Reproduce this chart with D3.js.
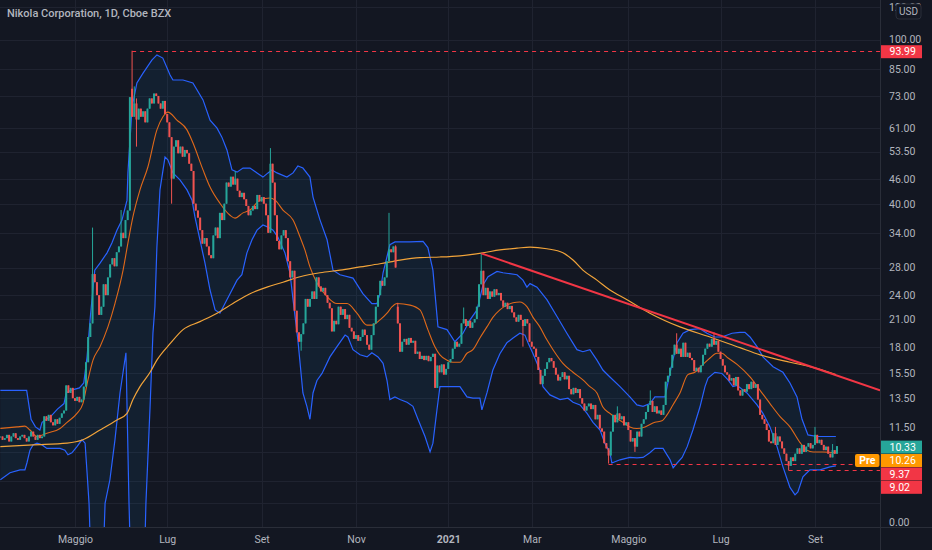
<!DOCTYPE html>
<html>
<head>
<meta charset="utf-8">
<script src="https://cdnjs.cloudflare.com/ajax/libs/d3/7.8.5/d3.min.js"></script>
<style>
  html, body { margin: 0; padding: 0; background: #131722; }
  svg { display: block; }
</style>
</head>
<body>
<div id="chart"></div>
<script>
// --- DATA ---
// bar index 0 = first session of May 2020; daily closes
const firstBar = -34;
const closes = [
    10.9, 10.7, 10.8, 11.0, 10.6, 10.9, 11.1, 10.8, 10.7, 10.9,
    11.0, 10.8, 10.6, 10.9, 11.2, 10.9, 10.7, 11.0, 10.8, 10.9,
    12.2, 11.9, 12.3, 11.8, 11.6, 12.0, 11.7, 12.1, 12.4, 12.6,
    14.5, 13.9, 14.3, 13.5, 13.3, 13.6, 13.2, 13.4, 14.4, 16.5,
    19.0, 20.5, 27.0, 25.8, 24.0, 21.5, 22.5, 25.5, 24.0, 26.5,
    28.5, 29.5, 28.2, 30.5, 31.5, 34.0, 33.0, 36.5, 38.5, 72.5,
    65.0, 70.0, 64.0, 68.0, 65.0, 67.0, 63.0, 68.0, 72.0, 70.0,
    74.0, 73.0, 70.0, 68.0, 71.0, 66.0, 63.0, 58.0, 46.0, 55.0,
    57.0, 53.0, 55.0, 52.0, 54.0, 53.0, 50.0, 48.0, 40.0, 38.5,
    37.0, 34.5, 32.0, 33.0, 31.5, 30.0, 29.5, 33.5, 35.0, 33.0,
    38.0, 36.5, 40.0, 45.0, 44.0, 46.5, 44.5, 46.0, 43.0, 41.5,
    42.5, 41.0, 39.5, 37.5, 38.5, 39.5, 38.8, 42.0, 40.5, 41.5,
    40.0, 37.5, 34.0, 50.0, 45.0, 37.5, 32.5, 31.0, 33.5, 34.5,
    33.0, 29.0, 26.5, 27.5, 22.0, 19.5, 18.5, 19.3, 20.5, 23.5,
    22.5, 23.5, 24.5, 23.5, 26.5, 25.2, 24.5, 25.0, 24.0, 23.0,
    22.3, 19.6, 20.8, 20.4, 22.5, 21.5, 22.2, 21.0, 21.5, 20.0,
    19.6, 18.8, 19.2, 18.6, 19.0, 19.8, 19.2, 18.2, 17.7, 19.2,
    20.5, 22.5, 24.0, 26.0, 25.3, 26.5, 29.0, 31.0, 30.5, 31.5,
    28.0, 20.5, 17.5, 18.5, 18.8, 18.2, 18.9, 18.4, 18.6, 17.3,
    17.5, 16.8, 17.1, 16.7, 17.1, 16.6, 17.0, 17.3, 14.3, 16.2,
    15.6, 16.3, 15.4, 15.9, 16.5, 16.8, 17.8, 18.5, 18.0, 18.3,
    20.5, 21.0, 20.2, 20.8, 20.0, 20.6, 21.0, 22.5, 25.5, 27.5,
    24.0, 25.0, 23.5, 24.5, 23.8, 24.8, 24.0, 24.3, 23.3, 22.5,
    23.0, 22.2, 22.6, 21.8, 21.2, 20.7, 21.5, 20.9, 20.2, 21.0,
    20.5, 18.5, 18.0, 17.8, 17.0, 15.8, 14.6, 15.3, 15.9, 16.5,
    16.9, 16.6, 16.0, 15.4, 14.9, 15.2, 15.6, 15.0, 15.3, 14.2,
    13.8, 14.3, 13.9, 14.2, 13.5, 13.1, 12.6, 12.9, 13.1, 12.7,
    13.0, 12.0, 12.3, 11.4, 11.2, 10.5, 10.2, 9.8, 11.2, 12.3,
    11.8, 12.4, 12.0, 12.2, 11.6, 11.8, 11.3, 10.6, 10.8, 10.3,
    11.2, 10.9, 11.7, 12.0, 12.5, 13.0, 13.3, 12.5, 12.9, 12.4,
    12.6, 12.3, 13.0, 14.8, 15.3, 16.0, 17.2, 18.2, 17.3, 17.8,
    17.0, 18.4, 17.0, 17.4, 16.9, 16.7, 15.7, 16.0, 15.6, 16.2,
    17.2, 17.8, 18.3, 18.0, 18.8, 18.2, 18.6, 17.5, 16.8, 16.2,
    15.6, 15.4, 14.9, 15.1, 14.5, 15.2, 14.1, 13.7, 14.2, 14.0,
    14.6, 14.2, 14.8, 14.3, 14.6, 13.4, 12.3, 12.0, 11.7, 11.3,
    10.6, 10.5, 11.1, 10.4, 10.9, 10.6, 10.2, 9.9, 9.5, 9.25,
    9.7, 9.5, 9.9, 10.2, 9.9, 10.4, 10.0, 10.3, 10.5, 10.2,
    10.4, 11.0, 10.5, 10.7, 10.4, 10.1, 10.3, 9.9, 9.7, 10.1,
    9.9, 10.33
];
// [bar, price] overrides where a candle gaps or has a visible wick
const gapOpens = [[26, 76], [147, 22.5]];
const wickHighs = [[8, 35], [21, 38.6], [26, 93.99], [27, 77], [28, 72], [73, 48], [89, 54.56],
    [143, 38], [146, 31.7], [147, 23], [177, 22.4], [185, 30.3], [247, 12.9], [262, 14.1],
    [274, 19.4], [291, 19.5], [319, 11.5], [337, 11.5], [345, 10.45]];
const wickLows = [[28, 55], [44, 40], [103, 17.6], [204, 18], [243, 9.37], [255, 10.0], [325, 9.02]];

// Bollinger Bands (20, 2) and SMA 200, [bar, price]
const bbUpper = [[-34,14.1],[-22,14.1],[-20,12.0],[-18,11.5],[-16,11.3],[-15,11.8],[-11,12.2],[-8,12.7],
    [-5,13.1],[-4,13.9],[-2,14.1],[2,14.3],[4,14.7],[5.5,17.0],[7,21.3],[9,27.6],[11.4,28.7],[14.6,30.4],
    [16.8,32.1],[19.1,34.5],[21.4,36.5],[23.7,40.8],[24.1,47.5],[26,68.6],[28.2,78.5],[31,82.9],[35,89.2],
    [37.3,91.8],[40,90.2],[43.3,82.1],[44.6,79.8],[49.2,79.8],[53.7,78.5],[58.3,71.4],[61.5,63.8],
    [64.7,61.0],[66.9,58.0],[69.2,54.0],[71.5,48.3],[73.8,47.7],[76.5,48.8],[79.7,48.8],[82.9,47.5],
    [85.6,46.4],[87.9,47.5],[89.7,48.3],[92,47.5],[96.5,46.4],[99.3,47.5],[101.5,49.4],[103.8,48.8],
    [107,46.4],[108.4,41.5],[111.6,36.5],[114.8,32.7],[117.5,27.6],[120.7,26.9],[126.6,26.4],
    [131.1,24.2],[135.2,22.9],[137.5,22.9],[138.9,24.2],[140.3,27.2],[143.4,31.8],[145.7,32.3],
    [152.6,32.3],[158.5,32.4],[160.7,31.3],[163,27.6],[165.3,20.1],[169.4,19.8],[173,18.5],
    [176.7,19.4],[179.9,20.9],[183.1,22.1],[185.8,25.4],[188.1,26.6],[192.2,27.4],[194.9,27.2],
    [201.3,26.9],[204,26.1],[205.8,25.1],[207.2,25.6],[210.4,25.1],[214.9,23.4],[219.5,21.3],
    [224,19.4],[228.6,17.7],[231.3,17.5],[234.5,17.7],[237.7,16.7],[240.4,15.8],[243.6,15.2],
    [248.2,14.4],[252.7,13.6],[255.9,13.0],[258.7,12.9],[261.8,13.1],[264.1,13.6],[268.7,13.6],
    [270,14.7],[271.9,16.4],[274.2,18.4],[276.9,19.4],[280.1,19.8],[284.6,19.9],[287.8,19.4],
    [291.4,19.0],[294.6,19.0],[299.2,19.4],[302.8,19.5],[305.1,19.5],[307.4,19.0],[310.6,18.0],
    [313.3,17.0],[317.9,16.1],[322.4,15.6],[325.6,14.7],[328.8,13.6],[331.1,12.0],[333.8,11.0],
    [337.9,10.9],[342.4,10.9],[346.5,10.9]];
const bbLower = [[-34,8.56],[-29.6,8.9],[-25,9.05],[-22.8,9.05],[-21.9,9.4],[-20.5,10.1],[-19.1,10.4],
    [-17.3,10.5],[-15,10.4],[-12.8,10.2],[-6.8,10.2],[-4.6,10.1],[-3.2,9.84],[-1.4,9.95],[0.9,10.3],
    [3.2,10.7],[4.6,10.5],[5.5,8.9],[6.4,7.5],[8,4],[12,4],[13.7,7.5],[15.9,8.56],[18.2,10.7],
    [20.5,13.9],[23.2,17.4],[24.6,7.5],[26,4],[31,4],[32.3,7.5],[34.2,12.9],[35.5,19.4],[36.4,22.5],
    [37.3,31.4],[38.7,43.2],[41,51.9],[42.3,51.1],[44.6,47.5],[47.8,45.7],[51,43.2],[53.3,40.8],
    [54.6,37.2],[56.9,32.7],[59.2,28.7],[61.5,24.7],[63.8,22.1],[66,21.7],[68.3,22.9],[70.6,24.2],
    [73.8,26.1],[76,26.9],[78.3,30.4],[80.6,32.7],[82.9,34.5],[85.6,35.5],[87.9,35.1],[90.2,34.5],
    [92.4,33.2],[95.6,30.4],[97.9,27.2],[99.3,23.4],[101.5,18.7],[103.8,13.9],[105.6,12.9],[107,12.0],
    [108.4,13.9],[110.2,14.9],[112.5,15.5],[116.1,17.0],[119.3,18.0],[123,19.2],[124.3,19.0],
    [126.6,17.7],[129.8,17.2],[133,17.0],[135.2,17.4],[138,17.0],[140.3,16.4],[142.1,14.9],
    [143.4,13.4],[145.7,13.6],[148,13.4],[151.2,13.2],[153.9,12.9],[156.2,12.0],[159.4,10.9],
    [161.7,10.0],[163,10.5],[164.8,12.6],[166.2,14.4],[169.4,14.4],[172.1,14.4],[175.3,14.4],
    [178.5,13.6],[181.2,13.5],[184.4,13.5],[185.3,12.65],[187.6,13.9],[190.3,15.8],[193.5,17.3],
    [196.7,18.4],[199.5,18.9],[202.6,19.4],[204.9,19.2],[206.3,18.4],[208.6,17.3],[211.7,15.8],
    [213.1,14.4],[216.3,13.75],[220.9,13.4],[224.5,13.5],[226.8,13.2],[230,13.0],[233.2,12.4],
    [235.9,11.8],[239.1,11.3],[241.3,10.5],[243.6,9.95],[244.5,9.4],[248.2,9.57],[252.7,9.7],
    [255.9,9.67],[258.7,9.7],[261.8,9.95],[264.1,10.2],[267.8,10.2],[269.6,9.84],[271,9.57],
    [272.4,9.15],[274.2,9.4],[276.5,9.7],[278.8,10.3],[281.4,11.3],[284.6,12.85],[286.9,14.4],
    [288.3,15.1],[291.4,15.6],[294.6,15.5],[297.4,14.95],[299.6,14.4],[301.5,14.5],[306,13.9],
    [310.6,13.0],[313.3,12.4],[316.5,11.5],[319.7,10.3],[322.4,9.2],[325.6,8.2],[327.9,7.87],
    [329.2,8.0],[331.5,8.7],[334.7,9.05],[339.3,9.05],[343.8,9.2],[346.5,9.25]];
const bbBasis = [[-34,11.4],[-26.4,11.5],[-22.8,11.55],[-20.5,11.3],[-17.3,10.9],[-12.8,11.1],
    [-6.8,11.4],[-3.6,11.8],[0.9,12.4],[3.6,13.1],[5.9,14.95],[8.2,16.7],[11.4,18.0],[15,20.1],
    [18.2,22.9],[21.9,27.6],[24.1,32.1],[26.4,37.2],[29.6,43.2],[33.2,49.1],[37.3,60.4],[40,64.9],
    [42.3,66.7],[46.4,63.8],[51,60.4],[53.7,56.2],[58.3,48.3],[61.5,43.9],[66,40.1],[70.6,37.5],
    [72.9,36.9],[76.5,38.0],[79.7,38.6],[84.2,40.8],[88.8,41.3],[91.1,40.8],[94.7,38.6],[99.3,36.5],
    [102.5,33.2],[104.7,30.9],[107,28.1],[110.2,25.7],[114.8,23.8],[119.3,22.9],[123.9,22.9],
    [128.4,21.7],[133,20.3],[135.2,20.3],[138.9,20.9],[142.1,21.7],[144.4,22.5],[146.6,22.9],
    [152.6,22.7],[157.1,22.1],[160.7,19.8],[163.9,18.0],[166.2,17.2],[169.4,16.7],[172.1,16.5],
    [175.3,16.5],[178.5,17.35],[181.2,17.7],[184.4,18.9],[187.6,20.1],[190.3,21.2],[193.5,22.1],
    [196.7,22.7],[199.5,23.0],[202.6,23.1],[205.8,22.5],[208.6,21.2],[211.7,20.1],[214.9,18.7],
    [217.7,17.7],[222.2,16.4],[226.8,15.6],[231.3,14.95],[234.5,14.4],[237.7,13.9],[240.4,12.85],
    [243.6,12.4],[249.5,11.8],[252.7,11.5],[255.9,11.4],[259.6,11.5],[264.1,11.8],[267.3,11.9],
    [269.6,12.3],[272.3,13.0],[275.5,13.9],[279.1,15.4],[282.3,15.6],[286,16.3],[289.2,16.9],
    [292.3,17.35],[294.6,17.35],[297.4,16.9],[301.5,16.3],[307.4,15.2],[312,14.1],[316.5,13.1],
    [321,12.2],[325.6,11.5],[330.1,10.55],[333.3,10.1],[336.1,10.0],[340.6,10.0],[346.5,9.95]];
const sma200 = [[-34,10.3],[-19.1,10.4],[-3.6,10.5],[3.6,10.7],[11.4,11.3],[19.1,11.95],[23.7,12.4],
    [26.4,13.4],[29.6,14.4],[34.2,15.6],[37.3,16.7],[43.3,18.3],[49.2,19.8],[56.9,20.7],[64.7,21.7],
    [71.9,22.9],[79.7,24.2],[87.4,25.1],[94.7,25.8],[102.5,26.6],[111.6,27.2],[120.7,27.6],
    [129.8,28.1],[138.9,28.6],[148,29.2],[157.1,29.6],[166.2,29.7],[175.3,29.9],[185.8,30.4],
    [193.5,30.9],[201.3,31.2],[207.2,31.4],[214.9,31.1],[222.2,30.4],[226.8,29.2],[231.3,27.6],
    [237.7,26.1],[243.6,24.7],[251.4,23.4],[261.8,21.7],[275.5,20.1],[289.2,19.0],[302.8,17.9],
    [312,17.2],[325.6,16.5],[334.7,16.1],[346.5,15.4]];

// drawn trend line (extended right) and horizontal price levels
const trendPoints = [[185, 30.3], [366.6, 14.1]];
const levelPrices = [93.99, 9.37, 9.02];
const levelStartBars = [26, 243, 325];

// price scale
const priceTicks = [120, 100, 85, 73, 61, 53.5, 46, 40, 34, 28, 24, 21, 18, 15.5, 13.5, 11.5, 10, 8.5, 7.5, 6.76];
const priceTickLabels = ["120.00", "100.00", "85.00", "73.00", "61.00", "53.50", "46.00", "40.00", "34.00",
    "28.00", "24.00", "21.00", "18.00", "15.50", "13.50", "11.50", "", "", "", "0.00"];
const badgeValues = [93.99, 10.33, 10.26, 9.37, 9.02];
const badgeKinds = ["level", "last", "pre", "level", "level"];

// time scale
const monthBars = [0, 42, 85, 128, 170, 208, 252, 294, 337];
const monthLabels = ["Maggio", "Lug", "Set", "Nov", "2021", "Mar", "Maggio", "Lug", "Set"];

const title = "Nikola Corporation, 1D, Cboe BZX";

// --- SETUP ---
const W = 932, H = 550;
const plotW = 880, plotH = 527;
const font = "Roboto, 'Noto Sans', sans-serif";
const colors = {
    bg: "#131722", grid: "#1f2330", text: "#b2b5be", border: "#2a2e39",
    up: "#26a69a", down: "#ef5350", band: "#2962ff", basis: "#e0691a",
    sma: "#f2a43a", trend: "#f23645", level: "#f23645", last: "#26a69a", pre: "#ff9800"
};

const svg = d3.select("#chart").append("svg")
    .attr("width", W)
    .attr("height", H)
    .style("background-color", colors.bg);

svg.append("defs").append("clipPath")
    .attr("id", "plot-clip")
    .append("rect")
    .attr("width", plotW)
    .attr("height", plotH);

const x = d3.scaleLinear().domain([-34.15, 366.6]).range([0, plotW]);
const y = d3.scaleLog().domain([100, 11.5]).range([39.6, 426.9]);

// --- GRID ---
const grid = svg.append("g").attr("clip-path", "url(#plot-clip)");
grid.selectAll("line.h")
    .data(priceTicks.slice(0, -1))
    .join("line")
    .attr("class", "h")
    .attr("x1", 0).attr("x2", plotW)
    .attr("y1", d => Math.round(y(d)) + 0.5)
    .attr("y2", d => Math.round(y(d)) + 0.5)
    .attr("stroke", colors.grid);
grid.selectAll("line.v")
    .data(monthBars)
    .join("line")
    .attr("class", "v")
    .attr("y1", 0).attr("y2", plotH)
    .attr("x1", d => Math.round(x(d)) + 0.5)
    .attr("x2", d => Math.round(x(d)) + 0.5)
    .attr("stroke", colors.grid);

const g = svg.append("g").attr("clip-path", "url(#plot-clip)");

// --- BOLLINGER BANDS ---
const line = d3.line().x(d => x(d[0])).y(d => y(d[1]));
const smooth = d3.line().x(d => x(d[0])).y(d => y(d[1])).curve(d3.curveMonotoneX);

g.append("path")
    .attr("d", line(bbUpper.concat(bbLower.slice().reverse())) + "Z")
    .attr("fill", "rgba(33,150,243,0.07)");
g.append("path").attr("d", line(bbUpper)).attr("fill", "none").attr("stroke", colors.band).attr("stroke-width", 1.2);
g.append("path").attr("d", line(bbLower)).attr("fill", "none").attr("stroke", colors.band).attr("stroke-width", 1.2);
g.append("path").attr("d", smooth(bbBasis)).attr("fill", "none").attr("stroke", colors.basis).attr("stroke-width", 1.1);
g.append("path").attr("d", smooth(sma200)).attr("fill", "none").attr("stroke", colors.sma).attr("stroke-width", 1.2);

// --- CANDLES ---
const openMap = new Map(gapOpens);
const highMap = new Map(wickHighs);
const lowMap = new Map(wickLows);
const bars = closes.map((c, k) => {
    const i = firstBar + k;
    const o = openMap.has(i) ? openMap.get(i) : (k > 0 ? closes[k - 1] : c);
    const h = Math.max(o, c, highMap.has(i) ? highMap.get(i) : 0);
    const l = Math.min(o, c, lowMap.has(i) ? lowMap.get(i) : Infinity);
    return {i, o, h, l, c};
});

const candle = g.append("g")
    .selectAll("g")
    .data(bars)
    .join("g")
    .attr("fill", d => d.c >= d.o ? colors.up : colors.down)
    .attr("stroke", d => d.c >= d.o ? colors.up : colors.down);
candle.append("line")
    .attr("x1", d => x(d.i)).attr("x2", d => x(d.i))
    .attr("y1", d => y(d.h)).attr("y2", d => y(d.l))
    .attr("stroke-width", 1);
candle.append("rect")
    .attr("stroke", "none")
    .attr("x", d => x(d.i) - 1)
    .attr("width", 2)
    .attr("y", d => y(Math.max(d.o, d.c)))
    .attr("height", d => Math.max(1, Math.abs(y(d.o) - y(d.c))));

// --- DRAWINGS ---
g.append("line")
    .attr("x1", x(trendPoints[0][0])).attr("y1", y(trendPoints[0][1]))
    .attr("x2", x(trendPoints[1][0])).attr("y2", y(trendPoints[1][1]))
    .attr("stroke", colors.trend)
    .attr("stroke-width", 2);

g.selectAll("line.level")
    .data(levelPrices)
    .join("line")
    .attr("class", "level")
    .attr("x1", (d, k) => x(levelStartBars[k])).attr("x2", plotW)
    .attr("y1", d => Math.round(y(d)) + 0.5).attr("y2", d => Math.round(y(d)) + 0.5)
    .attr("stroke", colors.level)
    .attr("stroke-dasharray", "4,4");

// --- AXES ---
svg.append("line")
    .attr("x1", plotW + 0.5).attr("x2", plotW + 0.5).attr("y1", 0).attr("y2", H)
    .attr("stroke", colors.border);
svg.append("line")
    .attr("x1", 0).attr("x2", W).attr("y1", plotH + 0.5).attr("y2", plotH + 0.5)
    .attr("stroke", colors.border);

const yAxis = svg.append("g")
    .attr("transform", `translate(${plotW},0)`)
    .call(d3.axisRight(y).tickValues(priceTicks).tickFormat((d, k) => priceTickLabels[k]).tickSize(0).tickPadding(9));
yAxis.select(".domain").remove();
yAxis.selectAll("text")
    .attr("fill", colors.text)
    .attr("font-size", 10.5)
    .attr("font-family", font);

const xAxis = svg.append("g")
    .attr("transform", `translate(0,${plotH})`)
    .call(d3.axisBottom(x).tickValues(monthBars).tickFormat((d, k) => monthLabels[k]).tickSize(0).tickPadding(9));
xAxis.select(".domain").remove();
xAxis.selectAll("text")
    .attr("fill", colors.text)
    .attr("font-size", 10.5)
    .attr("font-family", font)
    .attr("font-weight", (d, k) => /^\d{4}$/.test(monthLabels[k]) ? 700 : 400);

// --- PRICE BADGES ---
// stacked downwards so they never overlap, like the price scale does
const badgeH = 13;
let lastCenter = -Infinity;
const badges = badgeValues.map((v, k) => {
    const cy = Math.max(y(v) + 1, lastCenter + badgeH + 0.4);
    lastCenter = cy;
    return {v, kind: badgeKinds[k], cy};
});
const badgeColor = {level: colors.level, last: colors.last, pre: colors.pre};

const badge = svg.append("g")
    .selectAll("g")
    .data(badges)
    .join("g")
    .attr("transform", d => `translate(${plotW + 1},${d.cy - badgeH / 2})`);
badge.append("rect")
    .attr("width", 41)
    .attr("height", badgeH)
    .attr("fill", d => badgeColor[d.kind]);
badge.append("text")
    .attr("x", 8.5)
    .attr("y", badgeH / 2)
    .attr("dy", "0.35em")
    .attr("fill", "#ffffff")
    .attr("font-size", 10.5)
    .attr("font-family", font)
    .text(d => d.v.toFixed(2));

const pre = badges.find(d => d.kind === "pre");
const preTag = svg.append("g").attr("transform", `translate(855,${pre.cy - badgeH / 2})`);
preTag.append("rect").attr("width", 24.5).attr("height", badgeH).attr("rx", 2).attr("fill", colors.pre);
preTag.append("text")
    .attr("x", 12.25).attr("y", badgeH / 2).attr("dy", "0.35em")
    .attr("text-anchor", "middle")
    .attr("fill", "#ffffff")
    .attr("font-size", 10.5)
    .attr("font-weight", 700)
    .attr("font-family", font)
    .text("Pre");

// currency tag over the top label
const usd = svg.append("g").attr("transform", "translate(896,4)");
usd.append("rect")
    .attr("width", 25).attr("height", 15).attr("rx", 3)
    .attr("fill", colors.bg).attr("stroke", colors.border);
usd.append("text")
    .attr("x", 12.5).attr("y", 7.5).attr("dy", "0.35em")
    .attr("text-anchor", "middle")
    .attr("fill", colors.text)
    .attr("font-size", 10)
    .attr("font-family", font)
    .text("USD");

// --- TITLE ---
svg.append("text")
    .attr("x", 7)
    .attr("y", 16.5)
    .attr("fill", colors.text)
    .attr("font-size", 11)
    .attr("font-weight", 500)
    .attr("font-family", font)
    .text(title);
</script>
</body>
</html>
